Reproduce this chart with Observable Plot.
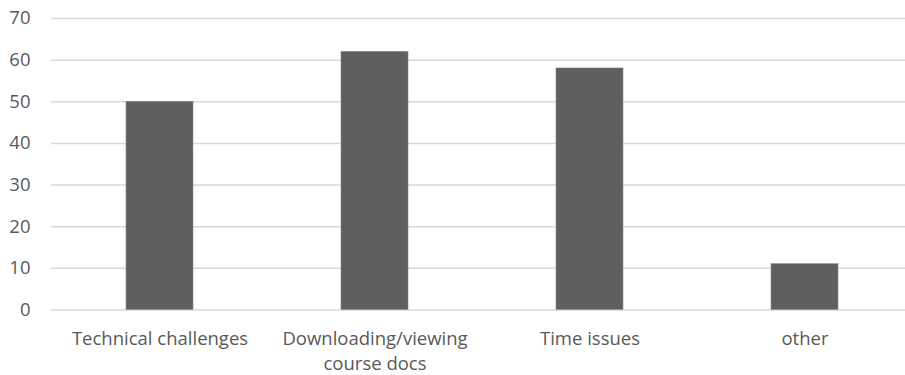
<!DOCTYPE html>
<html>
<head>
<meta charset="utf-8">
<script src="https://cdn.jsdelivr.net/npm/d3@7"></script>
<script src="https://cdn.jsdelivr.net/npm/@observablehq/plot@0.6"></script>
<style>
  html, body { margin: 0; padding: 0; background: #fff; }
  #chart svg { display: block; }
</style>
</head>
<body>
<div id="chart"></div>
<script>
const categories = ["Technical challenges", "Downloading/viewing\ncourse docs", "Time issues", "other"];
const values = [50, 62, 58, 11];
const yTicks = [0, 10, 20, 30, 40, 50, 60, 70];

const data = categories.map((c, i) => ({category: c, value: values[i]}));

const chart = Plot.plot({
  width: 905,
  height: 375,
  marginLeft: 51,
  marginRight: -8,
  marginTop: 18,
  marginBottom: 65.5,
  style: {fontFamily: "'Open Sans', sans-serif", fontSize: "18.5px", color: "#595959", background: "#fff"},
  x: {domain: categories, padding: 0, label: null},
  y: {domain: [0, 70], label: null},
  marks: [
    Plot.gridY(yTicks, {stroke: "#d9d9d9", strokeOpacity: 1, strokeWidth: 1.5}),
    Plot.barY(data, {x: "category", y: "value", fill: "#5f5f5f", stroke: "#8a8a8a", strokeWidth: 0.6, insetLeft: 74, insetRight: 74}),
    Plot.axisY(yTicks, {tickSize: 0, tickPadding: 21, fontSize: 18.5, fill: "#595959", label: null}),
    Plot.axisX({tickSize: 0, tickPadding: 17, fontSize: 18.5, fill: "#595959", lineHeight: 1.36, label: null})
  ]
});
document.getElementById("chart").appendChild(chart);
</script>
</body>
</html>
